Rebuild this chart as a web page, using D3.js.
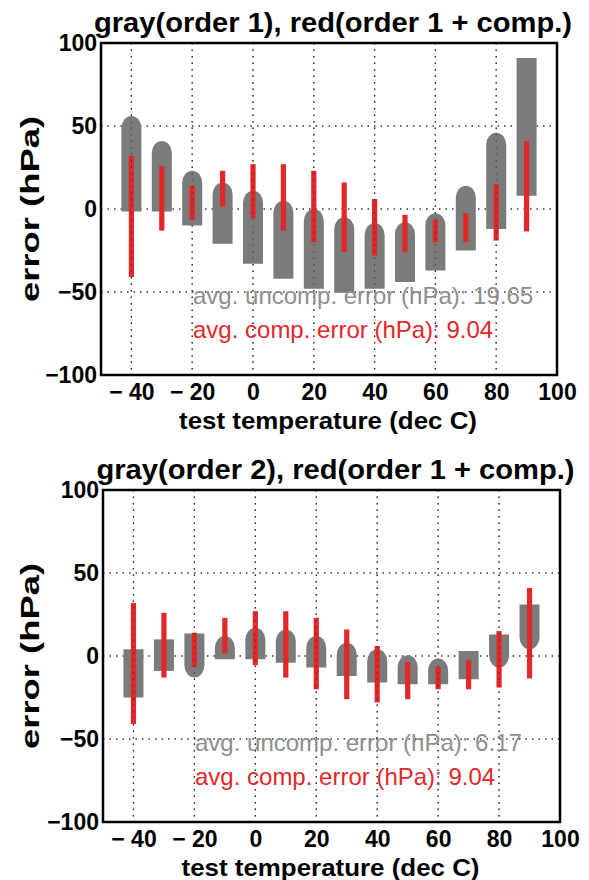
<!DOCTYPE html>
<html>
<head>
<meta charset="utf-8">
<title>error vs test temperature</title>
<script src="https://cdn.jsdelivr.net/npm/d3@7"></script>
<style>
    body { margin: 0; background: #fff; font-family: "Liberation Sans", Arial, sans-serif; }
    svg text { font-family: "Liberation Sans", Arial, sans-serif; }
</style>
</head>
<body>
<div id="container"></div>
<script>
// test temperatures (deg C)
var temps = [-40, -30, -20, -10, 0, 10, 20, 30, 40, 50, 60, 70, 80, 90];

// red: order 1 + compensation (same in both panels)
var redLow  = [-41, -13, -6.5, 1.5, -5.5, -13, -20, -26, -28, -26, -20, -20, -19, -13.5];
var redHigh = [32, 26, 14, 23, 27, 27, 23, 16, 6, -3.5, -6.5, -2.5, 15, 41];

// gray, order 1
var grayLow1  = [-1.5, -1.5, -10, -21, -33, -42, -48, -50.5, -48, -44, -37, -25, -12, 8];
var grayHigh1 = [56, 41, 23, 16, 11, 5, 0, -5, -8.5, -8, -2.5, 14, 46, 91];
var grayCap1  = ["top", "top", "top", "top", "top", "top", "top", "top", "top", "top", "top", "top", "top", "none"];

// gray, order 2
var grayLow2  = [-25, -9, -13, -2, -2, -4, -7, -12, -16, -17, -17, -14, -7, 4];
var grayHigh2 = [4, 10, 13.5, 12, 17, 16, 12, 8, 4, 0.5, -1.5, 3, 13, 31];
var grayCap2  = ["none", "none", "bottom", "top", "top", "top", "top", "top", "top", "top", "top", "none", "bottom", "bottom"];

var titles = ["gray(order 1), red(order 1 + comp.)", "gray(order 2), red(order 1 + comp.)"];
var avgUncomp = ["19.65", "6.17"];
var avgComp = ["9.04", "9.04"];

var xTicks = [-40, -20, 0, 20, 40, 60, 80, 100];
var yTicks = [-100, -50, 0, 50, 100];

var GRAY = "#7b7b7b", RED = "#e2272b", TEXTGRAY = "#8e8e8e";

var svg = d3.select("#container").append("svg")
    .attr("width", 589).attr("height", 880);

function barPath(cx, w, top, bottom, cap) {
    var l = cx - w / 2, r = cx + w / 2;
    var rad = Math.min(w / 2 + 2, (bottom - top) / 2);
    if (cap === "top") {
        return "M" + l + "," + bottom + "L" + l + "," + (top + rad) +
            "A" + (w / 2) + "," + rad + " 0 0 1 " + r + "," + (top + rad) +
            "L" + r + "," + bottom + "Z";
    }
    if (cap === "bottom") {
        return "M" + l + "," + top + "L" + r + "," + top + "L" + r + "," + (bottom - rad) +
            "A" + (w / 2) + "," + rad + " 0 0 1 " + l + "," + (bottom - rad) + "Z";
    }
    return "M" + l + "," + top + "H" + r + "V" + bottom + "H" + l + "Z";
}

function drawPanel(p, box, grayLow, grayHigh, grayCap) {
    var g = svg.append("g");
    var x = d3.scaleLinear().domain([-50, 100]).range([box.left, box.right]);
    var y = d3.scaleLinear().domain([-100, 100]).range([box.bottom, box.top]);

    // grid
    g.selectAll(".vgrid").data(xTicks.filter(function (d) { return d < 100; }))
        .enter().append("line")
        .attr("x1", function (d) { return x(d); }).attr("x2", function (d) { return x(d); })
        .attr("y1", box.top).attr("y2", box.bottom)
        .attr("stroke", "#333").attr("stroke-width", 1.3).attr("stroke-dasharray", "1.5,5");
    g.selectAll(".hgrid").data([-50, 0, 50])
        .enter().append("line")
        .attr("x1", box.left).attr("x2", box.right)
        .attr("y1", function (d) { return y(d); }).attr("y2", function (d) { return y(d); })
        .attr("stroke", "#333").attr("stroke-width", 1.3).attr("stroke-dasharray", "1.5,5");

    // gray bars
    g.selectAll(".gray").data(temps).enter().append("path")
        .attr("d", function (d, i) {
            return barPath(x(d), 20, y(grayHigh[i]), y(grayLow[i]), grayCap[i]);
        })
        .attr("fill", GRAY);

    // red bars
    g.selectAll(".red").data(temps).enter().append("rect")
        .attr("x", function (d) { return x(d) - 2.6; })
        .attr("width", 5.2)
        .attr("y", function (d, i) { return y(redHigh[i]); })
        .attr("height", function (d, i) { return y(redLow[i]) - y(redHigh[i]); })
        .attr("fill", RED);

    // vertical grid dots over the bars (they show through in the original)
    g.selectAll(".vdots").data(xTicks.filter(function (d) { return d < 100; }))
        .enter().append("line")
        .attr("x1", function (d) { return x(d); }).attr("x2", function (d) { return x(d); })
        .attr("y1", box.top).attr("y2", box.bottom)
        .attr("stroke", "#222").attr("stroke-width", 1.1).attr("stroke-dasharray", "1.5,5")
        .attr("opacity", 0.6);

    // frame
    g.append("rect")
        .attr("x", box.left).attr("y", box.top)
        .attr("width", box.right - box.left).attr("height", box.bottom - box.top)
        .attr("fill", "none").attr("stroke", "#000").attr("stroke-width", 2.5);

    // axes
    var yAxis = g.append("g").attr("transform", "translate(" + box.left + ",0)")
        .call(d3.axisLeft(y).tickValues(yTicks).tickSize(0).tickPadding(4).tickFormat(d3.format("d")));
    yAxis.select(".domain").remove();
    yAxis.selectAll("text").attr("font-size", 23).attr("font-weight", "bold")
        .attr("fill", "#000").attr("font-family", "Liberation Sans, Arial, sans-serif");

    var xAxis = g.append("g").attr("transform", "translate(0," + box.bottom + ")")
        .call(d3.axisBottom(x).tickValues(xTicks).tickSize(0).tickPadding(9)
            .tickFormat(function (d) { return d < 0 ? "\u2212 " + Math.abs(d) : String(d); }));
    xAxis.select(".domain").remove();
    xAxis.selectAll("text").attr("font-size", 23).attr("font-weight", "bold")
        .attr("fill", "#000").attr("font-family", "Liberation Sans, Arial, sans-serif");

    // title
    g.append("text").attr("x", (box.left + box.right) / 2 + 4).attr("y", box.top - 11)
        .attr("text-anchor", "middle").attr("font-size", 27).attr("font-weight", "bold")
        .attr("textLength", 478).attr("lengthAdjust", "spacingAndGlyphs")
        .text(titles[p]);

    // axis labels
    g.append("text").attr("x", (box.left + box.right) / 2 - 1).attr("y", box.bottom + 54)
        .attr("text-anchor", "middle").attr("font-size", 24).attr("font-weight", "bold")
        .attr("textLength", 298).attr("lengthAdjust", "spacingAndGlyphs")
        .text("test temperature (dec C)");
    g.append("text")
        .attr("transform", "translate(39," + ((box.top + box.bottom) / 2) + ") rotate(-90)")
        .attr("text-anchor", "middle").attr("font-size", 25).attr("font-weight", "bold")
        .attr("textLength", 186).attr("lengthAdjust", "spacingAndGlyphs")
        .text("error (hPa)");

    // averages
    g.append("text").attr("x", box.left + 92).attr("y", y(-57))
        .attr("font-size", 24).attr("fill", TEXTGRAY)
        .text("avg. uncomp. error (hPa): " + avgUncomp[p]);
    g.append("text").attr("x", box.left + 92).attr("y", y(-78))
        .attr("font-size", 24).attr("fill", RED)
        .text("avg. comp. error (hPa): " + avgComp[p]);
}

drawPanel(0, { left: 101, right: 557, top: 43, bottom: 375 }, grayLow1, grayHigh1, grayCap1);
drawPanel(1, { left: 103, right: 560, top: 490, bottom: 822 }, grayLow2, grayHigh2, grayCap2);
</script>
</body>
</html>
